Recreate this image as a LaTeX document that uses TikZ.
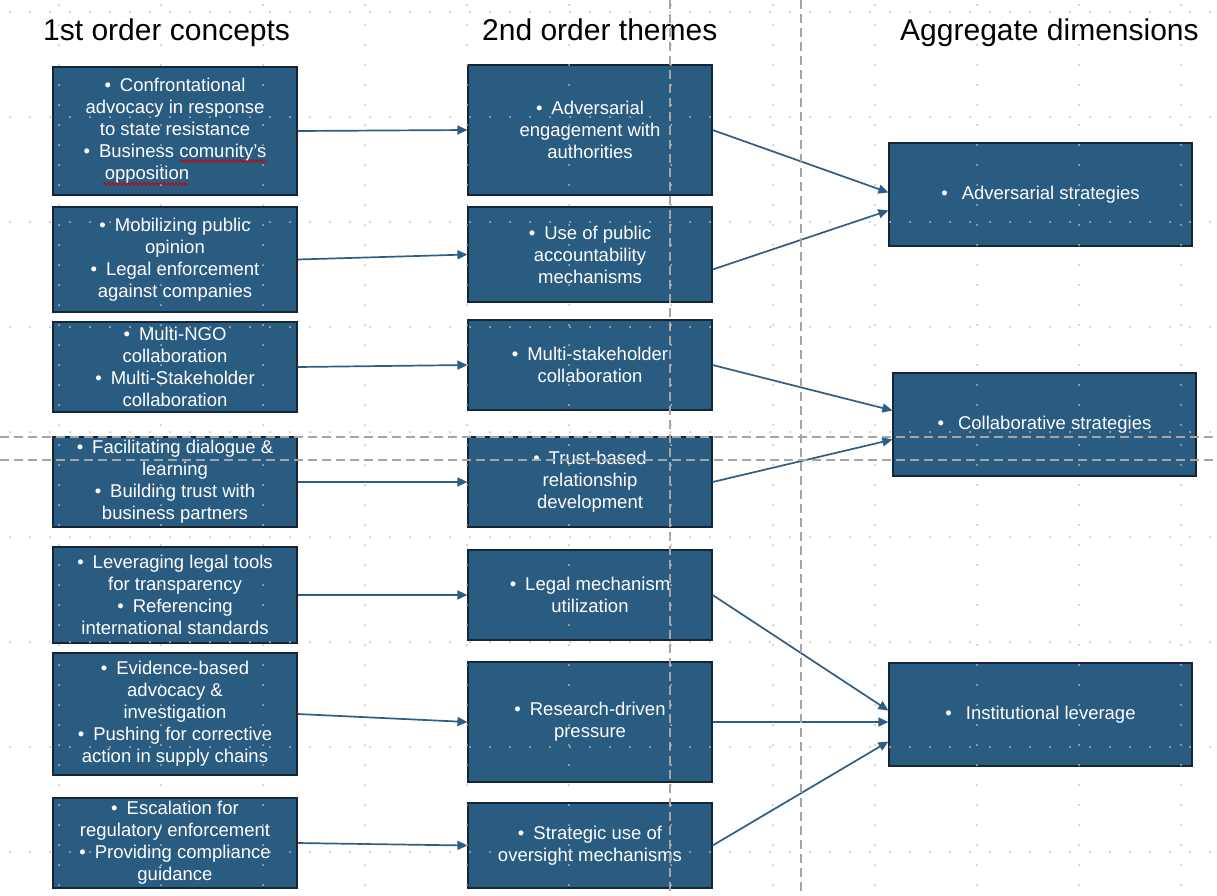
\documentclass[tikz,border=0pt]{standalone}
\usepackage{fontspec}
\setmainfont{Liberation Sans}
\usetikzlibrary{arrows.meta,decorations.pathmorphing,calc}
\definecolor{boxblue}{RGB}{42,91,129}
\definecolor{boxedge}{RGB}{20,38,56}
\definecolor{arrowblue}{RGB}{46,94,133}
\definecolor{guide}{RGB}{165,165,165}
\definecolor{griddot}{RGB}{190,190,190}
\newcommand{\blt}{\textbullet\hspace{9pt}}
\begin{document}
\begin{tikzpicture}[x=1pt,y=-1pt,
  box/.style={draw=boxedge, line width=1.2pt, fill=boxblue, text=white, align=center,
              font=\fontsize{18.5}{22}\selectfont, inner sep=0pt},
  lbox/.style={box, minimum width=244pt},
  rbox/.style={box, minimum width=303pt, minimum height=103pt},
  head/.style={anchor=base west, font=\fontsize{30}{34}\selectfont, inner sep=0pt},
  conn/.style={draw=arrowblue, line width=1.7pt, -{Triangle[length=10pt,width=9pt]}},
  guideline/.style={draw=guide, line width=1.2pt, dash pattern=on 9pt off 5pt},
  squiggle/.style={draw=red!80!black, line width=0.9pt, decorate,
                   decoration={snake, amplitude=1.2pt, segment length=4pt}}]
\useasboundingbox (0,0) rectangle (1217,895);
\fill[white] (0,0) rectangle (1217,895);

% headings
\node[head] (h1) at (43,40) {1st order concepts};
\node[head] (h2) at (482,40) {2nd order themes};
\node[head] (h3) at (900,40) {Aggregate dimensions};

% 1st order concepts
\node[lbox, minimum height=128pt] (l1) at (175,131)
  {\blt Confrontational\\advocacy in response\\to state resistance\\\blt Business comunity's\\opposition\hspace*{56pt}};
\node[lbox, minimum height=105pt] (l2) at (175,259.5)
  {\blt Mobilizing public\\opinion\\\blt Legal enforcement\\against companies};
\node[lbox, minimum height=90pt] (l3) at (175,367)
  {\blt Multi-NGO\\collaboration\\\blt Multi-Stakeholder\\collaboration};
\node[lbox, minimum height=90pt] (l4) at (175,482)
  {\blt Facilitating dialogue \&\\learning\\\blt Building trust with\\business partners};
\node[lbox, minimum height=96pt] (l5) at (175,595)
  {\blt Leveraging legal tools\\for transparency\\\blt Referencing\\international standards};
\node[lbox, minimum height=122pt] (l6) at (175,714)
  {\blt Evidence-based\\advocacy \&\\investigation\\\blt Pushing for corrective\\action in supply chains};
\node[lbox, minimum height=90pt] (l7) at (175,843)
  {\blt Escalation for\\regulatory enforcement\\\blt Providing compliance\\guidance};

% 2nd order themes
\node[lbox, minimum height=130pt] (m1) at (590,130)
  {\blt Adversarial\\engagement with\\authorities};
\node[lbox, minimum height=95pt] (m2) at (590,254.5)
  {\blt Use of public\\accountability\\mechanisms};
\node[lbox, minimum height=90pt] (m3) at (590,365)
  {\blt Multi-stakeholder\\collaboration};
\node[lbox, minimum height=90pt] (m4) at (590,482)
  {\blt Trust-based\\relationship\\development};
\node[lbox, minimum height=90pt] (m5) at (590,595)
  {\blt Legal mechanism\\utilization};
\node[lbox, minimum height=120pt] (m6) at (590,722)
  {\blt Research-driven\\pressure};
\node[lbox, minimum height=85pt] (m7) at (590,845.5)
  {\blt Strategic use of\\oversight mechanisms};

% aggregate dimensions
\node[rbox] (r1) at (1040.5,194.5) {\textbullet\hspace{14pt}Adversarial strategies};
\node[rbox] (r2) at (1044.5,424.5) {\textbullet\hspace{14pt}Collaborative strategies};
\node[rbox] (r3) at (1040.5,714.5) {\textbullet\hspace{14pt}Institutional leverage};

% spell-check marks
\draw[squiggle] (180,161) -- (266,161);
\draw[squiggle] (103,184) -- (189,184);

% connectors: concepts -> themes
\foreach \i in {1,...,7} \draw[conn] (l\i.east) -- (m\i.west);

% connectors: themes -> dimensions
\draw[conn] (m1.east) -- ([yshift=2pt]r1.west);
\draw[conn] ([yshift=-15pt]m2.east) -- ([yshift=-16pt]r1.west);
\draw[conn] (m3.east) -- ([yshift=14pt]r2.west);
\draw[conn] (m4.east) -- ([yshift=-15pt]r2.west);
\draw[conn] (m5.east) -- ([yshift=4pt]r3.west);
\draw[conn] (m6.east) -- (m6.east -| r3.west);
\draw[conn] (m7.east) -- ([yshift=-27pt]r3.west);

% guide lines
\draw[guideline] (670,0) -- (670,895);
\draw[guideline] (801,0) -- (801,895);
\draw[guideline] (0,437) -- (1217,437);
\draw[guideline] (0,460) -- (1217,460);

% grid dots
\foreach \x in {59,161,...,1181}
  \foreach \y in {5,25,...,895}
    \fill[griddot] (\x,\y) circle (1pt);
\foreach \y in {12,117,...,860}
  \foreach \x in {10,30,...,1217}
    \fill[griddot] (\x,\y) circle (1pt);
\end{tikzpicture}
\end{document}
